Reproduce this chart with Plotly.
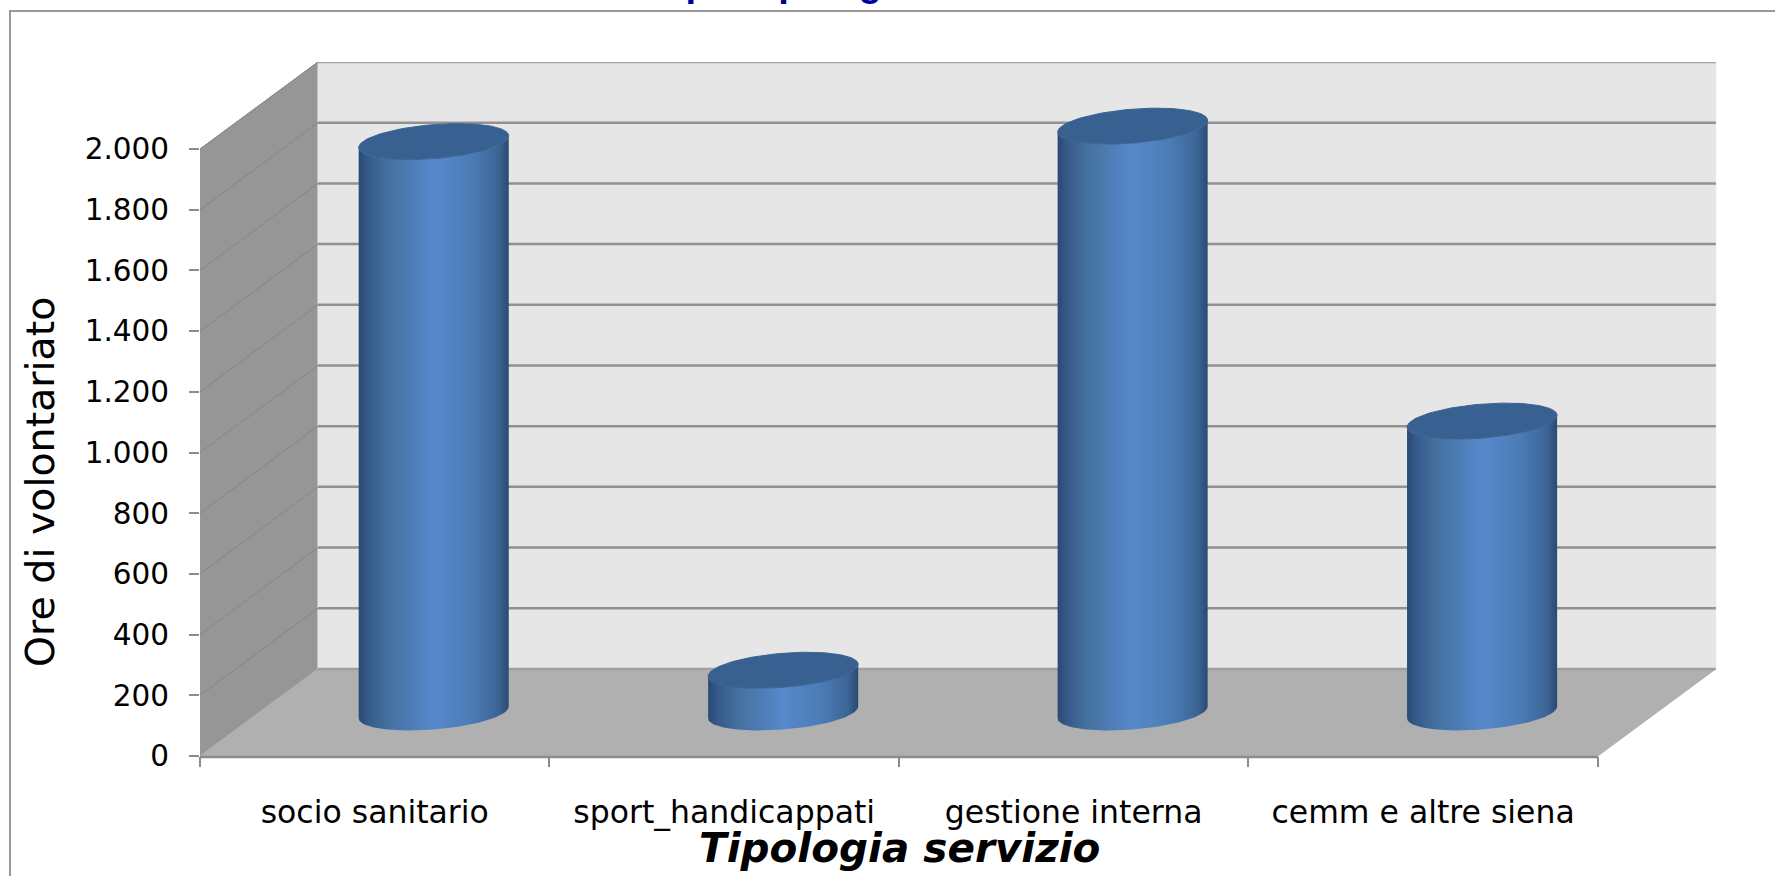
"""
Ore di volontariato per tipologia di servizio: 3D-look cylinder columns
"""

import numpy as np
import plotly.graph_objects as go

categories = ["socio sanitario", "sport_handicappati", "gestione interna", "cemm e altre siena"]
ore = [1881, 139, 1932, 960]
y_ticks = [0, 200, 400, 600, 800, 1000, 1200, 1400, 1600, 1800, 2000]
y_labels = ["0", "200", "400", "600", "800", "1.000", "1.200", "1.400", "1.600", "1.800", "2.000"]

WIDTH, HEIGHT = 1775, 876
M_LEFT, M_RIGHT, M_TOP, M_BOTTOM = 200, 55, 62, 120

Y_MAX = 2000
N_CAT = len(categories)
# oblique projection: how far the back of the box is shifted, in axis units
DEPTH_X = 0.3376
DEPTH_Y = 287
BAR_RX = 0.203  # cylinder radius along x, in category units
BAR_RZ = 0.207  # cylinder radius along depth, fraction of the box depth

X_RANGE = [0, N_CAT + DEPTH_X + 0.012]
Y_RANGE = [0, Y_MAX + DEPTH_Y]


def project(x, v, z):
    """Category position, value and depth (0 front, 1 back) to axis coordinates"""
    return np.asarray(x) + np.asarray(z) * DEPTH_X, np.asarray(v) + np.asarray(z) * DEPTH_Y


def px_x(p):
    return (p - M_LEFT) / (WIDTH - M_LEFT - M_RIGHT)


def px_y(p):
    return (HEIGHT - M_BOTTOM - p) / (HEIGHT - M_TOP - M_BOTTOM)


def polygon(corners, color, line=None):
    xs, ys = zip(*[project(*c) for c in corners])
    return go.Scatter(
        x=list(xs) + [xs[0]], y=list(ys) + [ys[0]], mode="lines", fill="toself",
        fillcolor=color, line=dict(color=line or color, width=1),
        hoverinfo="skip", showlegend=False,
    )


fig = go.Figure()

# box walls and floor
fig.add_trace(polygon([(0, 0, 0), (0, Y_MAX, 0), (0, Y_MAX, 1), (0, 0, 1)], "#969696"))
fig.add_trace(polygon([(0, 0, 1), (0, Y_MAX, 1), (N_CAT, Y_MAX, 1), (N_CAT, 0, 1)], "#e6e6e6"))
fig.add_trace(polygon([(0, 0, 0), (N_CAT, 0, 0), (N_CAT, 0, 1), (0, 0, 1)], "#b0b0b0"))

# gridlines: thin along the side wall, heavier along the back wall
for v in y_ticks:
    if 0 < v:
        xs, ys = project([0, 0], [v, v], [0, 1])
        fig.add_trace(go.Scatter(x=xs, y=ys, mode="lines", line=dict(color="#858585", width=1),
                                 hoverinfo="skip", showlegend=False))
    xs, ys = project([0, N_CAT], [v, v], [1, 1])
    fig.add_trace(go.Scatter(x=xs, y=ys, mode="lines",
                             line=dict(color="#a0a0a0" if v in (0, Y_MAX) else "#919191", width=2.5),
                             hoverinfo="skip", showlegend=False))

# cylinders
t = np.linspace(0, 2 * np.pi, 145)
t_left = np.pi + np.arctan2(BAR_RZ * DEPTH_X, BAR_RX)
lower = np.linspace(t_left, t_left + np.pi, 73)
upper = lower[::-1]
gradient = [[0, "#2a4a72"], [0.06, "#36598a"], [0.2, "#44719f"], [0.5, "#5689cc"],
            [0.75, "#4c7cb6"], [0.93, "#3c6596"], [1, "#2a4a70"]]

for i, (name, value) in enumerate(zip(categories, ore)):
    cx = i + 0.5
    # side surface: lower arc of the base, back along the arc at the top
    bx, by = project(cx + BAR_RX * np.cos(lower), 0, 0.5 + BAR_RZ * np.sin(lower))
    tx, ty = project(cx + BAR_RX * np.cos(upper), value, 0.5 + BAR_RZ * np.sin(upper))
    fig.add_trace(go.Scatter(
        x=np.r_[bx, tx, bx[0]], y=np.r_[by, ty, by[0]], mode="lines", fill="toself",
        fillgradient=dict(type="horizontal", colorscale=gradient),
        line=dict(width=0), hovertext=f"{name}: {value}", hoverinfo="text", showlegend=False,
    ))
    # top ellipse
    ex, ey = project(cx + BAR_RX * np.cos(t), value, 0.5 + BAR_RZ * np.sin(t))
    fig.add_trace(go.Scatter(
        x=ex, y=ey, mode="lines", fill="toself", fillcolor="#386090",
        line=dict(color="#3b6494", width=1), hoverinfo="skip", showlegend=False,
    ))

TEXT_FONT = "DejaVu Sans, sans-serif"

fig.update_layout(
    width=WIDTH,
    height=HEIGHT,
    autosize=False,
    margin=dict(l=M_LEFT, r=M_RIGHT, t=M_TOP, b=M_BOTTOM, pad=0),
    paper_bgcolor="white",
    plot_bgcolor="white",
    showlegend=False,
    font=dict(family=TEXT_FONT, color="black"),
    xaxis=dict(
        range=X_RANGE,
        showgrid=False,
        zeroline=False,
        showline=False,
        tickvals=[i + 0.5 for i in range(N_CAT)],
        ticktext=categories,
        ticks="outside",
        ticklen=28,
        tickcolor="rgba(0,0,0,0)",
        tickfont=dict(size=31.5),
        minor=dict(tickvals=list(range(N_CAT + 1)), ticks="outside", ticklen=10,
                   tickwidth=1.5, tickcolor="#8c8c8c", showgrid=False),
    ),
    yaxis=dict(
        range=Y_RANGE,
        showgrid=False,
        zeroline=False,
        tickvals=y_ticks,
        ticktext=y_labels,
        ticks="outside",
        ticklen=10,
        tickwidth=2,
        tickcolor="#8c8c8c",
        ticklabelstandoff=14,
        tickfont=dict(size=29.5),
    ),
    shapes=[
        # chart frame, runs off the picture on the right and at the bottom
        dict(type="path", xref="paper", yref="paper", layer="below",
             path=f"M {px_x(10)},{px_y(HEIGHT)} L {px_x(10)},{px_y(11)} L {px_x(WIDTH)},{px_y(11)}",
             line=dict(color="#999999", width=2)),
        # floor front edge
        dict(type="line", xref="x", yref="paper", x0=0, x1=N_CAT, y0=px_y(757), y1=px_y(757),
             line=dict(color="#8c8c8c", width=2.5)),
    ],
    annotations=[
        dict(text="Ore di volontariato", xref="paper", yref="paper", x=px_x(40), y=px_y(482),
             xanchor="center", yanchor="middle", textangle=-90, showarrow=False,
             font=dict(size=39.5, color="black")),
        dict(text="<i><b>Tipologia servizio</b></i>", xref="paper", yref="paper", x=px_x(899), y=px_y(848),
             xanchor="center", yanchor="middle", showarrow=False, font=dict(size=40.5, color="black")),
        # title cut off by the top of the picture, only the descenders show
        dict(text="<b>Ore di volontariato per tipologia servizio</b>", xref="paper", yref="paper",
             x=px_x(335), y=px_y(-4), xanchor="left", yanchor="bottom", yshift=-10, showarrow=False,
             font=dict(size=38, color="#00009a", family="Liberation Sans, Arial, sans-serif")),
    ],
)

fig.write_html("out.html", config=dict(displayModeBar=False),
               post_script="document.body.style.margin='0';")
